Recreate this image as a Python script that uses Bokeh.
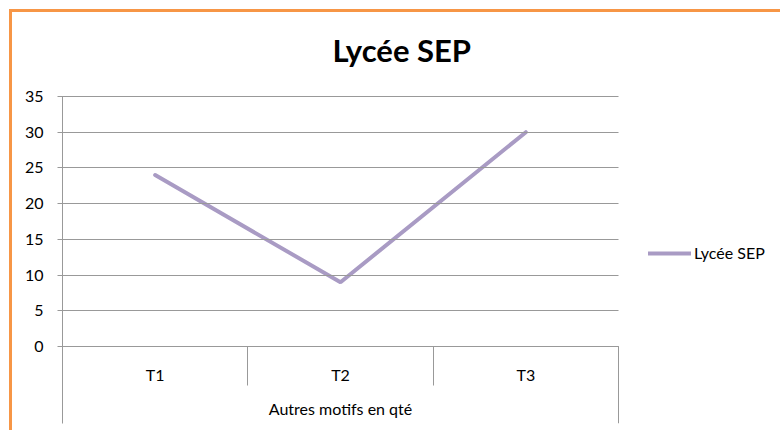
from bokeh.plotting import figure
from bokeh.models import (Range1d, LinearAxis, FixedTicker, Legend, LegendItem)
from bokeh.embed import file_html
from bokeh.resources import INLINE

# ---- data ----
categories = ["T1", "T2", "T3"]
values = [24, 9, 30]
series_name = "Lycée SEP"
group_label = "Autres motifs en qté"
y_ticks = [0, 5, 10, 15, 20, 25, 30, 35]

# ---- styles ----
FONT = "Lato"
GRID = "#999999"
LINE = "#A99BC4"
ORANGE = "#F79646"

n = len(categories)
x = [i + 1 for i in range(n)]
boundaries = [i + 0.5 for i in range(n + 1)]

# layout geometry (pixels)
W, H = 780, 430
LEFT, TOP, BOTTOM_PX = 62, 96, 423
PLOT_W = 556          # width of the category block
PLOT_H = 250          # height of the 0..35 block

y_top = max(y_ticks)
px_per_unit = PLOT_H / y_top
y_bottom = -((BOTTOM_PX - TOP) - PLOT_H) / px_per_unit
x_start = 0.5
x_end = x_start + (W - LEFT) * n / PLOT_W

p = figure(width=W, height=H,
           x_range=Range1d(x_start, x_end), y_range=Range1d(y_bottom, y_top),
           output_backend="svg", toolbar_location=None,
           x_axis_location=None, y_axis_location=None,
           min_border_left=LEFT, min_border_right=0,
           min_border_top=TOP, min_border_bottom=H - BOTTOM_PX)
p.outline_line_color = None
p.background_fill_color = "white"
p.border_fill_color = None
p.xgrid.grid_line_color = None
p.ygrid.grid_line_color = None
p.styles = {"box-shadow": "inset 9px 9px 0 0 white, inset 12px 12px 0 0 " + ORANGE}

# title
p.title.text = series_name
p.title.text_font = FONT
p.title.text_font_size = "31px"
p.title.text_font_style = "bold"
p.title.text_color = "black"
p.title.align = "left"
p.title.offset = 270
p.title.standoff = 56

# y axis: its inward ticks form the horizontal gridlines across the category block
y_axis = LinearAxis(ticker=FixedTicker(ticks=y_ticks),
                    axis_line_color=GRID, major_tick_line_color=GRID,
                    major_tick_out=5, major_tick_in=PLOT_W, minor_tick_line_color=None,
                    major_label_standoff=14, major_label_text_font=FONT,
                    major_label_text_font_size="16px", major_label_text_color="black")
p.add_layout(y_axis, "left")

# category separators
sep_axis = LinearAxis(fixed_location=0, bounds=(boundaries[0], boundaries[-1]),
                      ticker=FixedTicker(ticks=boundaries),
                      major_tick_out=39, major_tick_in=0, major_tick_line_color=GRID,
                      axis_line_color=GRID, minor_tick_line_color=None,
                      major_label_overrides={b: "" for b in boundaries})
p.add_layout(sep_axis, "below")

# category labels + group label
cat_axis = LinearAxis(fixed_location=0, bounds=(boundaries[0], boundaries[-1]),
                      ticker=FixedTicker(ticks=x),
                      major_label_overrides={xi: c for xi, c in zip(x, categories)},
                      major_tick_line_color=None, axis_line_color=None,
                      minor_tick_line_color=None, major_label_standoff=12,
                      major_label_text_font=FONT, major_label_text_font_size="16px",
                      major_label_text_color="black",
                      axis_label=group_label, axis_label_standoff=12,
                      axis_label_text_font=FONT, axis_label_text_font_size="16px",
                      axis_label_text_font_style="normal", axis_label_text_color="black")
p.add_layout(cat_axis, "below")

# right edge of the category block
right_axis = LinearAxis(fixed_location=boundaries[-1], bounds=(y_bottom, 0),
                        ticker=FixedTicker(ticks=[]),
                        axis_line_color=GRID, major_tick_line_color=None,
                        minor_tick_line_color=None)
p.add_layout(right_axis, "right")

# series
r = p.line(x=x, y=values, line_color=LINE, line_width=4, line_cap="round")

legend = Legend(items=[LegendItem(label=series_name, renderers=[r])],
                location=(586, 161), border_line_color=None, background_fill_alpha=0,
                glyph_width=43, glyph_height=18, label_height=18, label_standoff=3,
                padding=0, margin=0, spacing=0,
                label_text_font=FONT, label_text_font_size="16px", label_text_color="black")
p.add_layout(legend)

open("out.html", "w").write(file_html(p, INLINE))
